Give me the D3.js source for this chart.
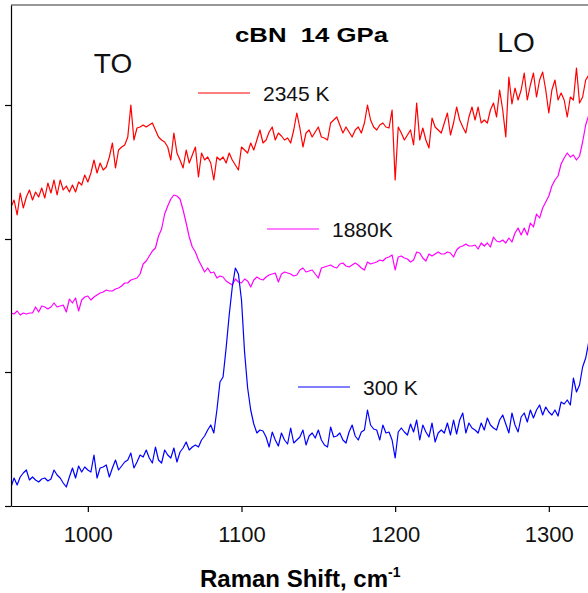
<!DOCTYPE html>
<html>
<head>
<meta charset="utf-8">
<script src="https://cdn.jsdelivr.net/npm/d3@7"></script>
<style>
  body { margin: 0; background: #fff; }
  svg { display: block; font-family: "Liberation Sans", Arial, sans-serif; }
  .axis path, .axis line { stroke: #000; stroke-width: 1.2; }
</style>
</head>
<body>
<svg id="chart" width="588" height="593"></svg>
<script>
// wavenumber grid, cm-1 (every 2 cm-1 from 950 to 1326)
var shiftStart = 950, shiftStep = 2
var xTicks = [1000, 1100, 1200, 1300]
var yTicks = [0, 134, 267, 401]

// intensities, arbitrary units (offset spectra)
var blue300 = [
  19, 28, 21, 29, 33, 36, 26, 29, 26, 24,
  27, 28, 25, 27, 36, 31, 28, 23, 19, 29,
  38, 28, 40, 34, 39, 36, 34, 51, 28, 38,
  39, 41, 29, 38, 46, 36, 40, 44, 46, 53,
  38, 44, 51, 49, 56, 48, 43, 59, 46, 43,
  56, 51, 48, 58, 44, 54, 58, 64, 56, 59,
  61, 59, 66, 70, 76, 81, 73, 96, 124, 129,
  158, 191, 219, 238, 232, 206, 154, 118, 96, 82,
  73, 76, 75, 69, 59, 74, 66, 60, 73, 66,
  62, 78, 63, 66, 69, 76, 61, 70, 73, 68,
  76, 66, 61, 59, 79, 69, 70, 73, 66, 63,
  74, 81, 70, 66, 74, 76, 96, 81, 77, 76,
  66, 81, 73, 74, 66, 48, 74, 78, 74, 71,
  82, 74, 86, 66, 81, 74, 69, 83, 64, 73,
  76, 73, 83, 71, 86, 72, 86, 93, 73, 83,
  78, 76, 73, 83, 76, 88, 81, 78, 76, 86,
  91, 82, 73, 93, 81, 74, 89, 93, 84, 96,
  88, 96, 101, 91, 99, 94, 91, 96, 90, 104,
  102, 106, 101, 128, 114, 121, 139, 148, 164
]
var magenta1880 = [
  193, 192, 195, 191, 193, 192, 193, 193, 199, 194,
  200, 199, 197, 199, 203, 199, 200, 201, 194, 207,
  203, 208, 195, 206, 209, 210, 206, 209, 211, 213,
  214, 216, 215, 215, 217, 218, 220, 223, 223, 226,
  227, 228, 232, 242, 245, 250, 255, 258, 270, 277,
  292, 300, 307, 311, 310, 307, 296, 283, 269, 259,
  254, 246, 240, 234, 238, 233, 234, 228, 230, 229,
  225, 223, 221, 227, 224, 223, 227, 225, 219, 226,
  229, 227, 226, 229, 231, 232, 233, 224, 232, 234,
  233, 232, 230, 231, 236, 238, 234, 235, 236, 232,
  228, 238, 239, 240, 241, 239, 238, 242, 243, 240,
  239, 241, 243, 241, 238, 236, 244, 242, 243, 244,
  246, 245, 248, 249, 251, 236, 249, 250, 248, 247,
  244, 246, 254, 253, 248, 245, 252, 250, 252, 254,
  252, 252, 254, 253, 249, 256, 259, 260, 262, 260,
  260, 261, 257, 263, 260, 263, 259, 269, 265, 264,
  266, 263, 268, 264, 273, 278, 271, 278, 271, 283,
  279, 292, 288, 298, 304, 310, 320, 326, 330, 342,
  348, 353, 349, 351, 346, 350, 364, 381, 391
]
var red2345 = [
  299, 306, 291, 313, 298, 309, 316, 306, 314, 309,
  318, 308, 323, 313, 326, 311, 326, 316, 320, 314,
  321, 314, 324, 321, 331, 324, 333, 346, 333, 343,
  336, 339, 349, 363, 338, 356, 359, 361, 369, 401,
  366, 378, 379, 381, 379, 381, 383, 376, 369, 366,
  364, 359, 346, 373, 353, 346, 338, 356, 343, 351,
  359, 329, 353, 346, 349, 343, 326, 349, 346, 349,
  343, 353, 346, 341, 336, 359, 356, 353, 363, 356,
  366, 376, 363, 366, 374, 379, 366, 373, 370, 366,
  368, 363, 376, 393, 378, 359, 373, 376, 369, 374,
  379, 369, 368, 366, 383, 386, 389, 381, 373, 379,
  374, 369, 376, 379, 373, 383, 401, 386, 379, 376,
  381, 383, 379, 378, 396, 326, 379, 373, 366, 371,
  376, 361, 403, 366, 378, 366, 358, 388, 379, 376,
  373, 383, 393, 371, 383, 399, 386, 379, 373, 389,
  399, 386, 399, 383, 386, 383, 396, 403, 389, 416,
  396, 369, 429, 402, 418, 406, 416, 433, 406, 421,
  433, 409, 426, 434, 416, 393, 416, 426, 406, 413,
  406, 389, 409, 406, 438, 403, 409, 426, 431
]

var series = [
  {name: "2345 K", color: "#ff0000", values: red2345, lx: 198, ly: 93},
  {name: "1880K", color: "#ff00ff", values: magenta1880, lx: 267, ly: 229},
  {name: "300 K", color: "#0000ff", values: blue300, lx: 298, ly: 387}
]

var svg = d3.select("#chart")

var x = d3.scaleLinear().domain([950, 1325.5]).range([11, 588])
var y = d3.scaleLinear().domain([0, 501]).range([506, 5])

svg.append("defs").append("clipPath").attr("id", "plot")
  .append("rect").attr("x", 11).attr("y", 5).attr("width", 577).attr("height", 501)

var line = d3.line()
  .x((d, i) => x(shiftStart + i * shiftStep))
  .y((d) => y(d))

svg.append("g").attr("clip-path", "url(#plot)")
  .selectAll("path")
  .data(series)
  .enter().append("path")
  .attr("d", (d) => line(d.values))
  .attr("fill", "none")
  .attr("stroke", (d) => d.color)
  .attr("stroke-width", 1.2)
  .attr("stroke-linejoin", "round")

// frame top
svg.append("line")
  .attr("x1", 11).attr("x2", 588).attr("y1", 5).attr("y2", 5)
  .attr("stroke", "#333").attr("stroke-width", 1.2)

var xAxis = svg.append("g")
  .attr("class", "axis")
  .attr("transform", "translate(0,506)")
  .call(d3.axisBottom(x).tickValues(xTicks).tickFormat(d3.format("d")).tickSize(6).tickSizeOuter(0))
xAxis.selectAll("text")
  .attr("y", 36).attr("dy", 0)
  .attr("font-size", "22px").attr("font-family", "Liberation Sans, Arial, sans-serif")
  .attr("fill", "#111")

svg.append("g")
  .attr("class", "axis")
  .attr("transform", "translate(11,0)")
  .call(d3.axisLeft(y).tickValues(yTicks).tickSize(6).tickSizeOuter(0).tickFormat(""))

// legend
var leg = svg.append("g").selectAll("g").data(series).enter().append("g")
leg.append("line")
  .attr("x1", (d) => d.lx).attr("x2", (d) => d.lx + 52)
  .attr("y1", (d) => d.ly).attr("y2", (d) => d.ly)
  .attr("stroke", (d) => d.color).attr("stroke-width", 1.2)
leg.append("text")
  .attr("x", (d) => d.lx + 65)
  .attr("y", (d) => d.ly + 8)
  .attr("font-size", "21px")
  .attr("fill", "#111")
  .text((d) => d.name)

// annotations
svg.append("text")
  .attr("x", 235).attr("y", 42)
  .attr("font-size", "21px").attr("font-weight", "bold")
  .attr("textLength", 153).attr("lengthAdjust", "spacingAndGlyphs")
  .style("white-space", "pre")
  .text("cBN  14 GPa")

svg.append("text")
  .attr("x", 113).attr("y", 73).attr("text-anchor", "middle")
  .attr("font-size", "28px").attr("fill", "#111")
  .text("TO")

svg.append("text")
  .attr("x", 516).attr("y", 52).attr("text-anchor", "middle")
  .attr("font-size", "28px").attr("fill", "#111")
  .text("LO")

var title = svg.append("text")
  .attr("x", 200).attr("y", 587)
  .attr("font-size", "24px").attr("font-weight", "bold")
title.append("tspan").text("Raman Shift, cm")
title.append("tspan").attr("dy", -10).attr("font-size", "14px").text("-1")
</script>
</body>
</html>
